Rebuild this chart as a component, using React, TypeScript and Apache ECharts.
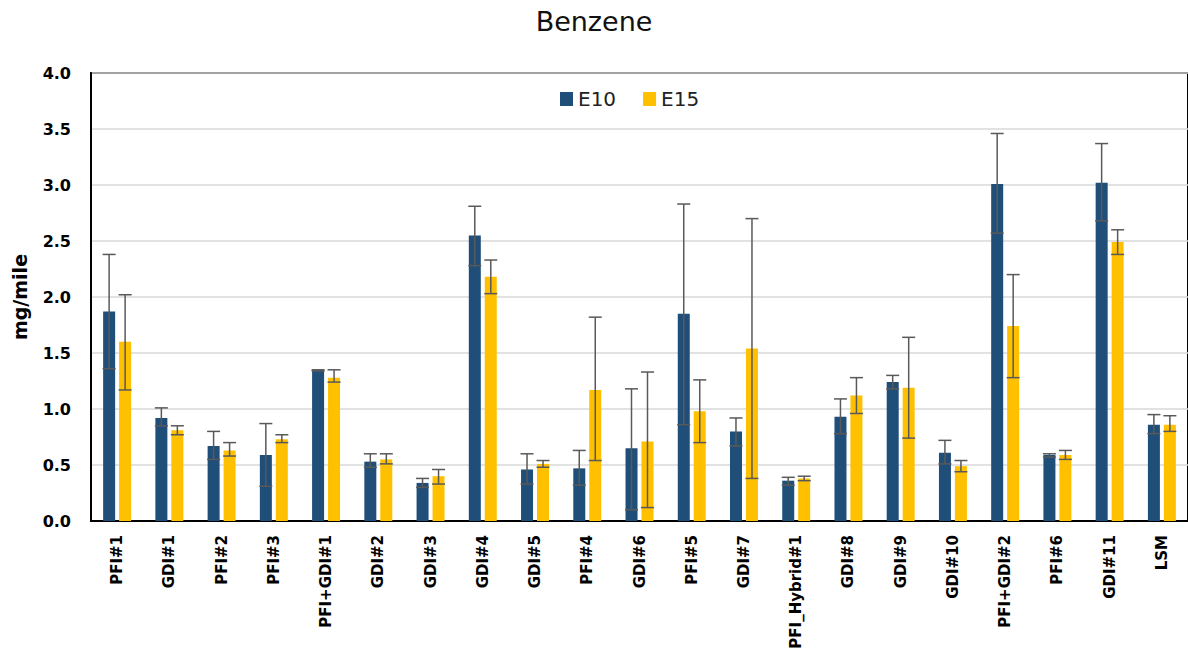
import React, { useEffect, useRef } from "react";
import * as echarts from "echarts";

const categories = [
  "PFI#1", "GDI#1", "PFI#2", "PFI#3", "PFI+GDI#1", "GDI#2", "GDI#3", "GDI#4", "GDI#5", "PFI#4",
  "GDI#6", "PFI#5", "GDI#7", "PFI_Hybrid#1", "GDI#8", "GDI#9", "GDI#10", "PFI+GDI#2", "PFI#6", "GDI#11", "LSM",
];

const e10 = [1.87, 0.92, 0.67, 0.59, 1.35, 0.53, 0.34, 2.55, 0.46, 0.47, 0.65, 1.85, 0.80, 0.36, 0.93, 1.24, 0.61, 3.01, 0.59, 3.02, 0.86];
const e10Low = [1.36, 0.85, 0.55, 0.31, 1.34, 0.48, 0.30, 2.28, 0.33, 0.32, 0.10, 0.86, 0.67, 0.32, 0.78, 1.18, 0.51, 2.57, 0.57, 2.68, 0.78];
const e10High = [2.38, 1.01, 0.80, 0.87, 1.35, 0.60, 0.38, 2.81, 0.60, 0.63, 1.18, 2.83, 0.92, 0.39, 1.09, 1.30, 0.72, 3.46, 0.60, 3.37, 0.95];

const e15 = [1.60, 0.81, 0.63, 0.73, 1.28, 0.55, 0.40, 2.18, 0.51, 1.17, 0.71, 0.98, 1.54, 0.38, 1.12, 1.19, 0.49, 1.74, 0.59, 2.49, 0.86];
const e15Low = [1.17, 0.77, 0.58, 0.70, 1.24, 0.51, 0.33, 2.03, 0.48, 0.54, 0.12, 0.70, 0.38, 0.36, 0.96, 0.74, 0.44, 1.28, 0.55, 2.38, 0.80];
const e15High = [2.02, 0.85, 0.70, 0.77, 1.35, 0.60, 0.46, 2.33, 0.54, 1.82, 1.33, 1.26, 2.70, 0.40, 1.28, 1.64, 0.54, 2.20, 0.63, 2.60, 0.94];

const yTicks = { min: 0, max: 4, interval: 0.5 };

const errorRenderer = (offset: number) => (params: any, api: any) => {
  const idx = api.value(0);
  const lo = api.coord([idx, api.value(1)]);
  const hi = api.coord([idx, api.value(2)]);
  const x = lo[0] + offset;
  const half = 6.5;
  const style = { stroke: "#595959", lineWidth: 1.5 };
  return {
    type: "group",
    children: [
      { type: "line", shape: { x1: x, y1: lo[1], x2: x, y2: hi[1] }, style },
      { type: "line", shape: { x1: x - half, y1: lo[1], x2: x + half, y2: lo[1] }, style },
      { type: "line", shape: { x1: x - half, y1: hi[1], x2: x + half, y2: hi[1] }, style },
    ],
  };
};

export default function App() {
  const ref = useRef<HTMLDivElement>(null);
  useEffect(() => {
    if (!ref.current) return;
    const chart = echarts.init(ref.current, null, { renderer: "svg" });
    chart.setOption({
      animation: false,
      backgroundColor: "#ffffff",
      title: {
        text: "Benzene",
        left: "center",
        top: 3,
        textStyle: { fontFamily: "DejaVu Sans", fontSize: 27, fontWeight: "normal", color: "#111" },
      },
      legend: {
        data: ["E10", "E15"],
        left: 555,
        top: 84,
        icon: "rect",
        itemWidth: 13,
        itemHeight: 14,
        itemGap: 27,
        textStyle: { fontFamily: "DejaVu Sans", fontSize: 20, color: "#222" },
      },
      grid: {
        left: 91,
        top: 73,
        width: 1100,
        height: 448,
        show: true,
        borderColor: "#000",
        borderWidth: 2,
        containLabel: false,
      },
      xAxis: {
        type: "category",
        data: categories,
        axisLine: { lineStyle: { color: "#000", width: 2 } },
        axisTick: { show: false },
        axisLabel: {
          rotate: 90,
          interval: 0,
          margin: 14,
          fontFamily: "DejaVu Sans",
          fontWeight: "bold",
          fontSize: 15,
          color: "#000",
        },
      },
      yAxis: {
        type: "value",
        min: yTicks.min,
        max: yTicks.max,
        interval: yTicks.interval,
        name: "mg/mile",
        nameLocation: "middle",
        nameGap: 62,
        nameTextStyle: { fontFamily: "DejaVu Sans", fontWeight: "bold", fontSize: 19, color: "#000" },
        axisLine: { show: true, lineStyle: { color: "#000", width: 2 } },
        axisTick: { show: false },
        axisLabel: {
          margin: 20,
          formatter: (v: number) => v.toFixed(1),
          fontFamily: "DejaVu Sans",
          fontWeight: "bold",
          fontSize: 16,
          color: "#000",
        },
        splitLine: { lineStyle: { color: "#d9d9d9", width: 1.5 } },
      },
      series: [
        {
          name: "E10",
          type: "bar",
          data: e10,
          barWidth: 12,
          barGap: "33%",
          itemStyle: { color: "#1f4e79" },
        },
        {
          name: "E15",
          type: "bar",
          data: e15,
          barWidth: 12,
          barGap: "33%",
          itemStyle: { color: "#ffc000" },
        },
        {
          type: "custom",
          name: "E10 err",
          renderItem: errorRenderer(-8),
          data: categories.map((_, i) => [i, e10Low[i], e10High[i]]),
          encode: { x: 0, y: [1, 2] },
          z: 10,
        },
        {
          type: "custom",
          name: "E15 err",
          renderItem: errorRenderer(8),
          data: categories.map((_, i) => [i, e15Low[i], e15High[i]]),
          encode: { x: 0, y: [1, 2] },
          z: 10,
        },
      ],
    });
    return () => chart.dispose();
  }, []);
  return (
    <div
      ref={ref}
      style={{ position: "fixed", left: 0, top: 0, width: 1188, height: 659, background: "#fff" }}
    />
  );
}
